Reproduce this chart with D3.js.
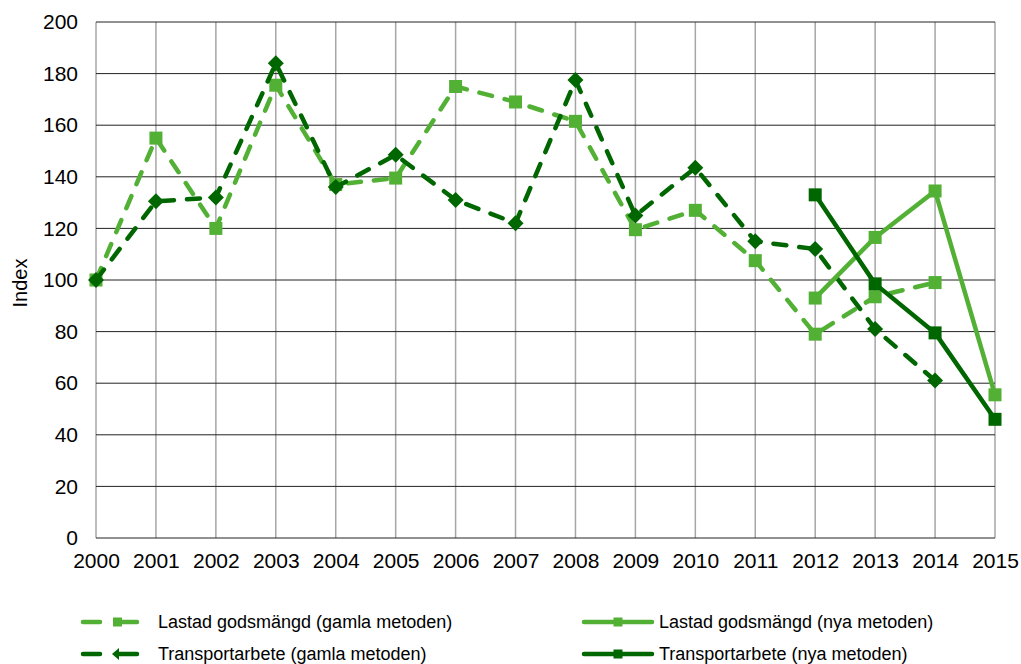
<!DOCTYPE html>
<html><head><meta charset="utf-8">
<script src="https://cdn.jsdelivr.net/npm/d3@7"></script>
<style>body{margin:0;background:#fff;}svg text{font-family:"Liberation Sans",Arial,sans-serif;}</style>
</head><body><svg id="c" width="1021" height="664"></svg>
<script>
const years = [2000,2001,2002,2003,2004,2005,2006,2007,2008,2009,2010,2011,2012,2013,2014,2015];
const lastadGamla = [100,155,120,175.5,137,139.5,175,169,161.5,119.5,127,107.5,79,93.5,99,null];
const transportGamla = [100,130.5,132,184,136,148.5,131,122,177.5,125,143.5,115,112,81,61,null];
const lastadNya = [null,null,null,null,null,null,null,null,null,null,null,null,93,116.5,134.5,55.5];
const transportNya = [null,null,null,null,null,null,null,null,null,null,null,null,133,98.5,79.5,46];
const yTicks = [0,20,40,60,80,100,120,140,160,180,200];
const seriesNames = ["Lastad godsmängd (gamla metoden)","Transportarbete (gamla metoden)","Lastad godsmängd (nya metoden)","Transportarbete (nya metoden)"];

const light = "#52b035", dark = "#006600";
const series = [
  {name:seriesNames[0], values:lastadGamla, color:light, dashed:true, marker:"square"},
  {name:seriesNames[1], values:transportGamla, color:dark, dashed:true, marker:"diamond"},
  {name:seriesNames[2], values:lastadNya, color:light, dashed:false, marker:"square"},
  {name:seriesNames[3], values:transportNya, color:dark, dashed:false, marker:"square"}
];

const svg = d3.select("#c");
const L=96, R=995, T=22, B=538;
const x = d3.scalePoint().domain(years).range([L,R]);
const y = d3.scaleLinear().domain([0,200]).range([B,T]);

// gridlines
svg.append("g").selectAll("line").data(years).join("line")
  .attr("x1",d=>x(d)).attr("x2",d=>x(d)).attr("y1",T).attr("y2",B)
  .attr("stroke","#a6a6a6").attr("stroke-width",1.5);
svg.append("g").selectAll("line").data(yTicks).join("line")
  .attr("x1",L).attr("x2",R).attr("y1",d=>y(d)).attr("y2",d=>y(d))
  .attr("stroke","#222").attr("stroke-width",1);

// axes labels
const ya = svg.append("g").attr("transform",`translate(${L},0)`)
  .call(d3.axisLeft(y).tickValues(yTicks).tickSize(0).tickPadding(18));
ya.select(".domain").remove();
ya.selectAll("text").attr("font-size",21).attr("fill","#000").attr("font-family","Liberation Sans, Arial, sans-serif");
const xa = svg.append("g").attr("transform",`translate(0,${B})`)
  .call(d3.axisBottom(x).tickFormat(d3.format("d")).tickSize(0).tickPadding(15));
xa.select(".domain").remove();
xa.selectAll("text").attr("font-size",21).attr("fill","#000").attr("font-family","Liberation Sans, Arial, sans-serif");

svg.append("text").attr("transform",`translate(27,283) rotate(-90)`)
  .attr("text-anchor","middle").attr("font-size",20).text("Index");

const line = d3.line().defined(d=>d.v!=null).x(d=>x(d.y)).y(d=>y(d.v));
function marker(g, type, cx, cy, color){
  if(type==="square"){
    g.append("rect").attr("x",cx-6.5).attr("y",cy-6.5).attr("width",13).attr("height",13).attr("fill",color);
  } else {
    const s=8;
    g.append("path").attr("d",`M${cx},${cy-s}L${cx+s},${cy}L${cx},${cy+s}L${cx-s},${cy}Z`).attr("fill",color);
  }
}
series.forEach(s=>{
  const data = years.map((yr,i)=>({y:yr,v:s.values[i]}));
  svg.append("path").datum(data).attr("d",line).attr("fill","none")
    .attr("stroke",s.color).attr("stroke-width",4.5)
    .attr("stroke-linecap","round").attr("stroke-linejoin","round")
    .attr("stroke-dasharray",s.dashed?"13,13":null);
  const g = svg.append("g");
  data.filter(d=>d.v!=null).forEach(d=>marker(g,s.marker,x(d.y),y(d.v),s.color));
});

// legend
const leg = [
  {s:series[0], x0:83, x1:137, mx:118, tx:158, ty:622},
  {s:series[1], x0:83, x1:137, mx:118, tx:158, ty:654},
  {s:series[2], x0:584, x1:652, mx:618, tx:659, ty:622},
  {s:series[3], x0:584, x1:652, mx:618, tx:659, ty:654}
];
leg.forEach(l=>{
  const g = svg.append("g");
  if(l.s.dashed){
    g.append("line").attr("x1",l.x0).attr("x2",l.x0+17).attr("y1",l.ty).attr("y2",l.ty)
      .attr("stroke",l.s.color).attr("stroke-width",4.5).attr("stroke-linecap","round");
    g.append("line").attr("x1",l.mx).attr("x2",l.x1).attr("y1",l.ty).attr("y2",l.ty)
      .attr("stroke",l.s.color).attr("stroke-width",4.5).attr("stroke-linecap","round");
    if(l.s.marker==="square"){
      g.append("rect").attr("x",l.mx-5).attr("y",l.ty-4.5).attr("width",9).attr("height",9).attr("fill",l.s.color);
    } else {
      g.append("path").attr("d",`M${l.mx-6},${l.ty}L${l.mx+1},${l.ty-6}L${l.mx+1},${l.ty+6}Z`).attr("fill",l.s.color);
    }
  } else {
    g.append("line").attr("x1",l.x0).attr("x2",l.x1).attr("y1",l.ty).attr("y2",l.ty)
      .attr("stroke",l.s.color).attr("stroke-width",4.5).attr("stroke-linecap","round");
    g.append("rect").attr("x",l.mx-4.5).attr("y",l.ty-4.5).attr("width",9).attr("height",9).attr("fill",l.s.color);
  }
  g.append("text").attr("x",l.tx).attr("y",l.ty).attr("dy","0.35em").attr("font-size",18).text(l.s.name);
});
</script></body></html>
